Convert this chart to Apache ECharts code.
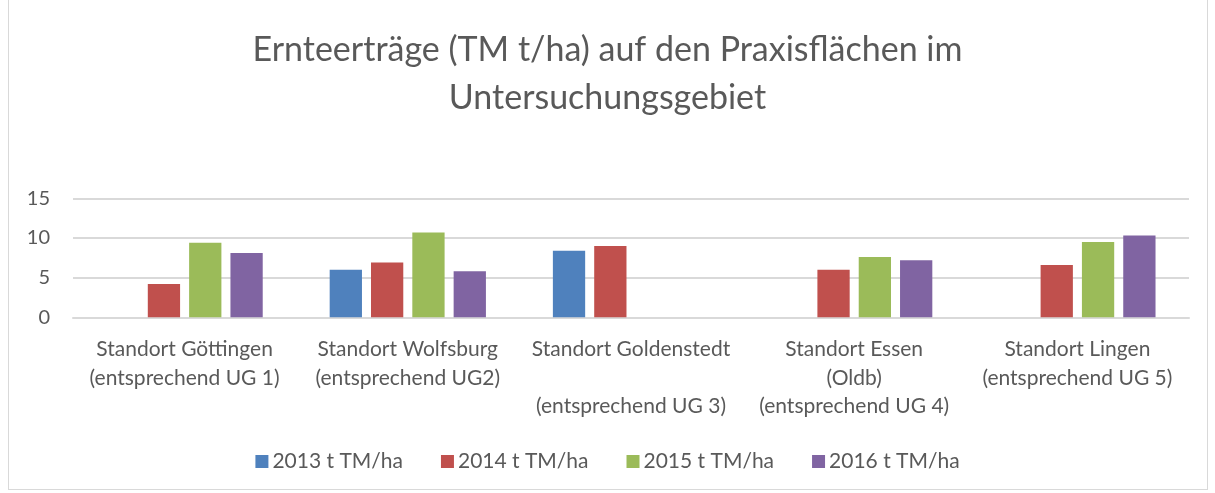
<!DOCTYPE html>
<html>
<head>
<meta charset="utf-8">
<script src="https://cdn.jsdelivr.net/npm/echarts@6/dist/echarts.min.js"></script>
<style>
  html, body { margin: 0; padding: 0; background: #fff; }
  #frame { position: absolute; left: 8px; top: -2px; width: 1198px; height: 490px; border: 1px solid #d9d9d9; }
  #chart { width: 1215px; height: 493px; }
</style>
</head>
<body>
<div id="frame"></div>
<div id="chart"></div>
<script>
// Standorte (Kategorien)
var standorte = [
  'Standort Göttingen\n(entsprechend UG 1)',
  'Standort Wolfsburg\n(entsprechend UG2)',
  'Standort Goldenstedt\n\n(entsprechend UG 3)',
  'Standort Essen\n(Oldb)\n(entsprechend UG 4)',
  'Standort Lingen\n(entsprechend UG 5)'
];

// Erträge pro Jahr, '-' = kein Wert
var jahr2013 = ['-', 6.0, 8.4, '-', '-'];
var jahr2014 = [4.2, 6.9, 9.0, 6.0, 6.6];
var jahr2015 = [9.4, 10.7, '-', 7.6, 9.5];
var jahr2016 = [8.1, 5.8, '-', 7.2, 10.3];

var serienNamen = ['2013 t TM/ha', '2014 t TM/ha', '2015 t TM/ha', '2016 t TM/ha'];
var farben = ['#4f81bd', '#c0504d', '#9bbb59', '#8064a2'];

var schrift = 'Lato';
var textFarbe = '#595959';

var myChart = echarts.init(document.getElementById('chart'));

var werte = [jahr2013, jahr2014, jahr2015, jahr2016];
var seriesList = [];
serienNamen.forEach(function (name, i) {
  seriesList.push({
    type: 'bar',
    name: name,
    data: werte[i],
    itemStyle: { color: farben[i] },
    barGap: '28%',
    barCategoryGap: '30%'
  });
});

var option = {
  animation: false,
  textStyle: { fontFamily: schrift },
  title: {
    text: 'Ernteerträge (TM t/ha) auf den Praxisflächen im\nUntersuchungsgebiet',
    left: 'center',
    top: 21,
    textStyle: {
      fontFamily: schrift,
      fontSize: 34,
      fontWeight: 'normal',
      color: textFarbe,
      lineHeight: 48
    }
  },
  legend: {
    bottom: 16,
    left: 'center',
    itemWidth: 13,
    itemHeight: 13,
    itemGap: 38,
    icon: 'rect',
    textStyle: { fontFamily: schrift, fontSize: 21, color: textFarbe, padding: [0, 0, 0, -1] }
  },
  grid: {
    left: 73,
    right: 26,
    top: 198.3,
    bottom: 175.7,
    containLabel: false
  },
  xAxis: {
    type: 'category',
    data: standorte,
    axisLine: { lineStyle: { color: '#d9d9d9', width: 2 } },
    axisTick: { show: false },
    axisLabel: {
      interval: 0,
      margin: 18,
      fontFamily: schrift,
      fontSize: 21,
      lineHeight: 28.5,
      color: textFarbe
    }
  },
  yAxis: {
    type: 'value',
    min: 0,
    max: 15,
    interval: 5,
    axisLine: { show: false },
    axisTick: { show: false },
    splitLine: { lineStyle: { color: '#d9d9d9', width: 2 } },
    axisLabel: {
      margin: 23,
      fontFamily: schrift,
      fontSize: 20,
      color: textFarbe
    }
  },
  series: seriesList
};
myChart.setOption(option);
</script>
</body>
</html>
